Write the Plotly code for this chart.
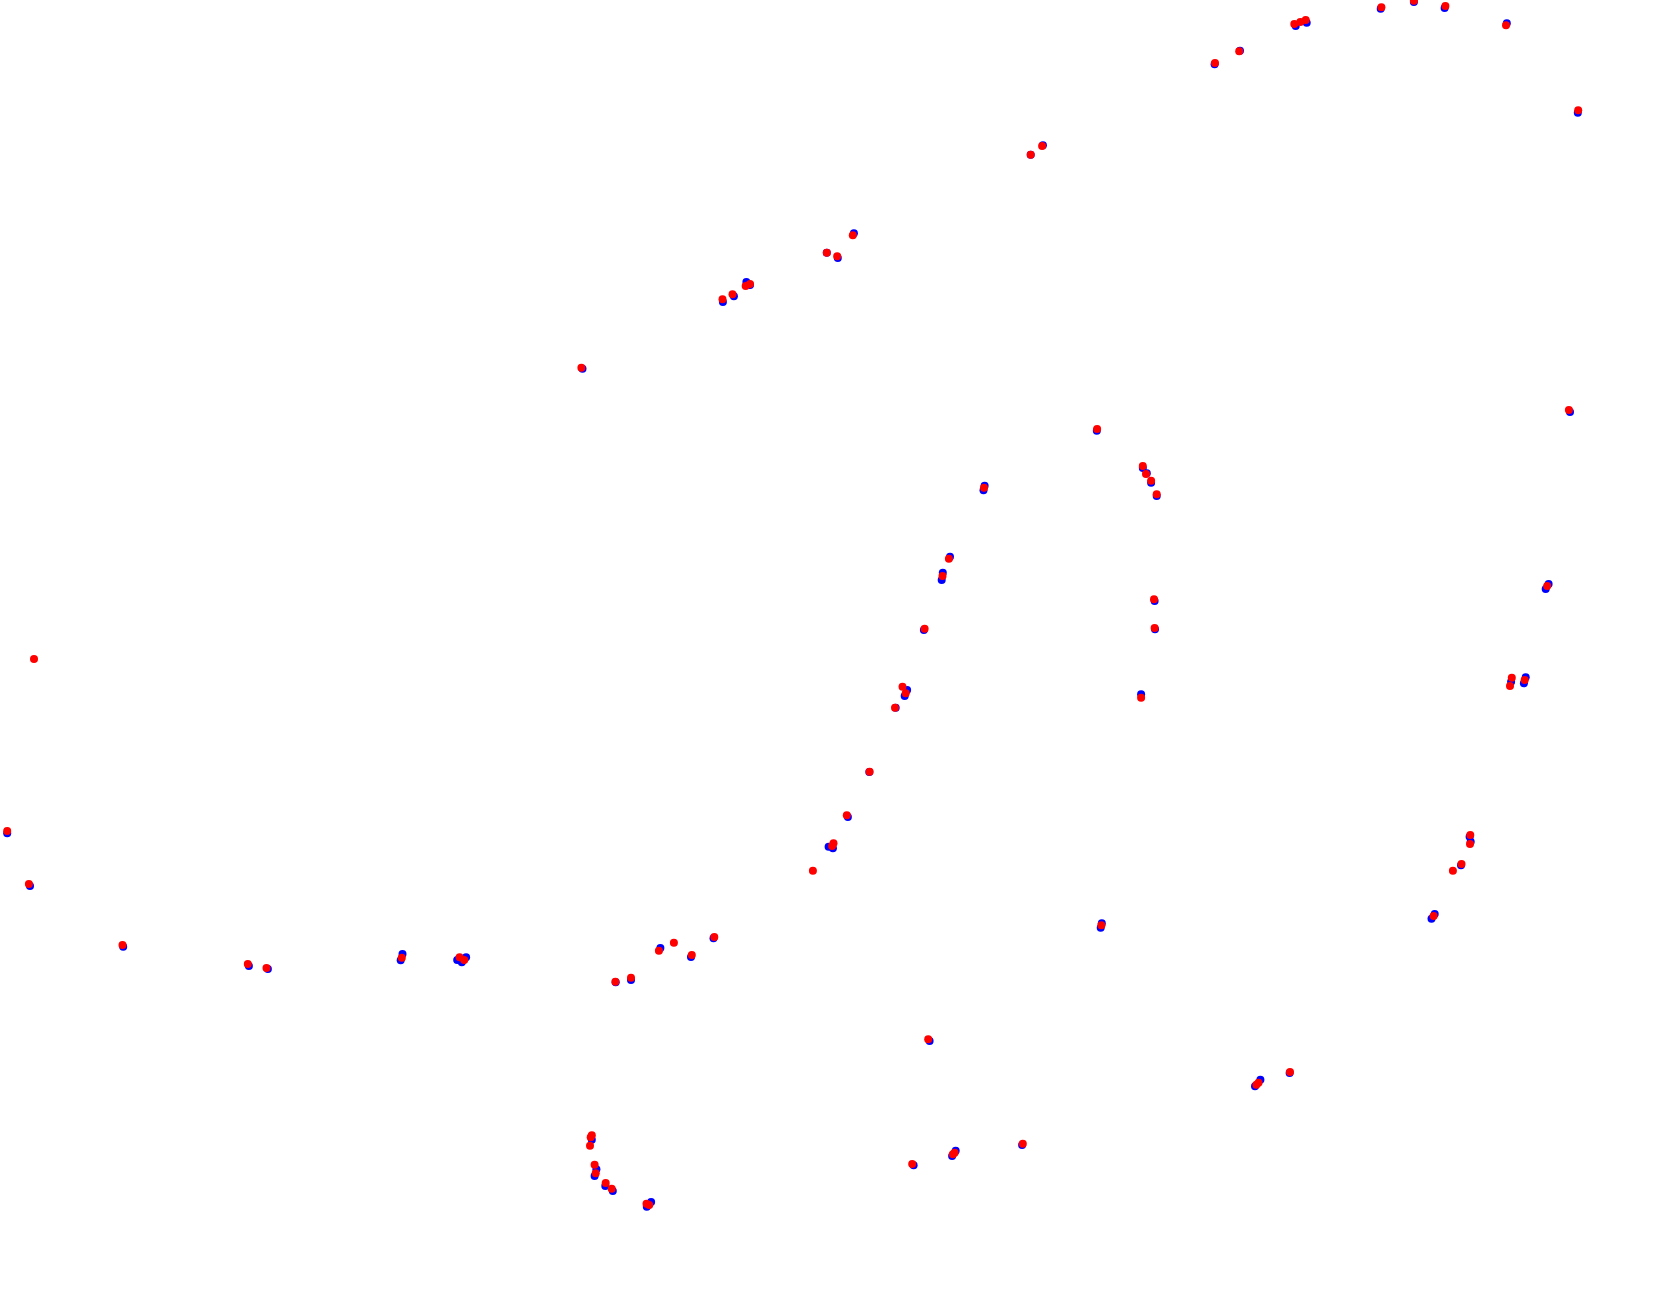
import plotly.graph_objects as go

# Positions (x to the right, y downward)
blue_x = [1042.9, 1030.7, 853.9, 826.8, 837.8, 746.4, 750.0, 733.9, 722.9, 582.5, 1096.8,
          1214.6, 1240.0, 1295.7, 1306.7, 1380.7, 1413.9, 1444.6, 1506.8, 1577.8, 1570.0,
          7.2,
          984.6, 983.5, 950.0, 941.7, 942.8, 923.9, 907.1, 904.7, 895.7, 869.3, 847.9, 828.6, 832.9,
          1142.8, 1146.8, 1151.1, 1156.7, 1154.6, 1155.0, 1141.1, 1548.6, 1545.7, 1511.1, 1525.7, 1523.9,
          1469.6, 1470.7, 1461.0,
          30.0, 123.2, 248.9, 267.9, 402.5, 400.7, 457.2, 466.1, 461.8,
          615.7, 631.0, 660.4, 691.0, 713.5, 1101.8, 1100.7, 929.6, 591.8, 596.4, 594.6, 605.3, 612.8,
          651.1, 646.8, 913.6, 955.7, 952.1, 1022.1,
          1434.7, 1431.5, 1289.6, 1260.4, 1255.0]
blue_y = [145.3, 154.7, 233.3, 252.7, 258, 282, 285, 296.3, 302, 368.7, 430.7,
          64.3, 50.7, 26, 22.7, 8.7, 2, 8, 23.3, 112.7, 412,
          833.3,
          485.7, 490.3, 556.7, 580, 572.7, 630, 690, 696, 707.7, 772, 817, 846.7, 848.3,
          468, 473.3, 482.7, 496, 601, 629.3, 694.3, 584, 589, 681.7, 677.3, 683.3,
          836.7, 841.7, 865.3,
          886, 946.7, 966, 969, 954, 960.3, 960, 957.3, 962.3,
          982.3, 980, 948, 957, 938.3, 923.3, 927.7, 1041, 1139.7, 1169.3, 1176, 1186, 1191,
          1202, 1206.7, 1165.3, 1150.7, 1156, 1145,
          914, 918.7, 1073, 1079.7, 1086.3]

red_x = [1042.1, 1030.7, 852.8, 826.8, 837.2, 750.0, 745.7, 732.5, 722.5, 581.4, 1097.1,
         1215.0, 1239.2, 1294.3, 1300.3, 1305.7, 1381.4, 1413.9, 1445.4, 1506.0, 1578.2, 1568.9,
         34.0, 7.2,
         984.0, 948.9, 942.5, 924.6, 902.5, 905.7, 895.0, 869.6, 846.8, 833.5, 832.1, 812.9,
         1142.8, 1146.0, 1151.1, 1156.7, 1154.0, 1154.6, 1141.1, 1547.2, 1511.8, 1510.0, 1524.7,
         1470.3, 1470.0, 1461.5, 1452.9,
         28.9, 122.5, 247.8, 266.5, 401.8, 459.6, 464.2,
         615.4, 631.0, 658.9, 673.9, 691.8, 714.3, 1101.4, 928.2, 591.8, 590.7, 590.0, 594.6, 595.7,
         605.7, 611.7, 646.5, 649.2, 912.2, 954.6, 952.9, 1022.8,
         1433.6, 1290.0, 1258.5, 1256.4]
red_y = [146, 154.7, 235.3, 252.7, 256.3, 284, 286, 294.3, 299.3, 367.7, 429,
         63, 51.3, 24, 22, 20, 7.3, 0.7, 6, 25.3, 110.3, 410,
         659, 831,
         487.7, 558.7, 576, 628.7, 686.7, 693.3, 707.7, 771.7, 815.3, 843.3, 846, 870.7,
         466, 474, 480.7, 494.3, 599.3, 628, 697.7, 586, 677.7, 686, 680,
         835, 844, 864, 870.7,
         884, 945, 964, 968, 957.7, 957.3, 960,
         981.7, 977.7, 950.7, 942.7, 955, 937, 925.3, 1039.3, 1135.3, 1137.3, 1145.7, 1164.7, 1173.3,
         1183, 1188.7, 1203.7, 1205, 1164, 1152.7, 1154.3, 1143.7,
         916, 1072, 1082.7, 1084.7]

fig = go.Figure()
fig.add_trace(go.Scatter(x=blue_x, y=blue_y, mode="markers",
                         marker=dict(color="blue", size=8), showlegend=False))
fig.add_trace(go.Scatter(x=red_x, y=red_y, mode="markers",
                         marker=dict(color="red", size=8), showlegend=False))

fig.update_layout(
    width=1680, height=1293,
    margin=dict(l=0, r=0, t=0, b=0),
    paper_bgcolor="white", plot_bgcolor="white",
    xaxis=dict(range=[0, 1680], visible=False, showgrid=False, zeroline=False),
    yaxis=dict(range=[1293, 0], visible=False, showgrid=False, zeroline=False),
)

fig.write_html("out.html", config={"displayModeBar": False},
               post_script="document.body.style.margin='0';document.body.style.overflow='hidden';")
